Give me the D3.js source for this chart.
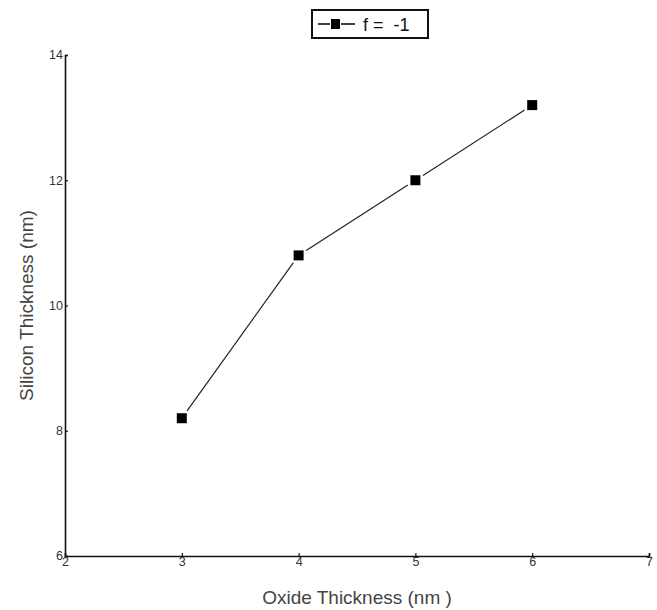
<!DOCTYPE html>
<html>
<head>
<meta charset="utf-8">
<script src="https://cdn.jsdelivr.net/npm/d3@7"></script>
<style>
  html, body { margin: 0; padding: 0; background: #fff; }
  svg { display: block; font-family: Arial, "Liberation Sans", sans-serif; }
</style>
</head>
<body>
<svg id="chart" width="657" height="610"></svg>
<script>
// Series: silicon thickness vs oxide thickness, f = -1
const oxideThickness = [3, 4, 5, 6];
const siliconThickness = [8.2, 10.8, 12.0, 13.2];
const seriesName = "f =  -1";

const xTicks = [2, 3, 4, 5, 6, 7];
const yTicks = [6, 8, 10, 12, 14];

const svg = d3.select("#chart");

const x = d3.scaleLinear().domain([2, 7]).range([65, 649]);
const y = d3.scaleLinear().domain([6, 14]).range([556, 55]);

const ink = "#111";

// Axes
const xAxis = d3.axisBottom(x).tickValues(xTicks).tickSize(-3).tickPadding(5).tickFormat(d3.format("d"));
const yAxis = d3.axisLeft(y).tickValues(yTicks).tickSize(-3).tickPadding(2).tickFormat(d3.format("d"));

const gx = svg.append("g").attr("transform", `translate(0,${y(6)})`).call(xAxis);
const gy = svg.append("g").attr("transform", `translate(${x(2)},0)`).call(yAxis);

[gx, gy].forEach(g => {
  g.select(".domain").attr("stroke", ink).attr("stroke-width", 1.6);
  g.selectAll(".tick line").attr("stroke", ink).attr("stroke-width", 1.2);
  g.selectAll(".tick text").attr("fill", "#333").attr("font-size", 12.5);
});
gx.selectAll(".tick text").attr("dy", "0.4em");
gy.selectAll(".tick text").attr("dy", "0.3em");

// Axis titles
svg.append("text")
  .attr("x", 357).attr("y", 604)
  .attr("text-anchor", "middle")
  .attr("font-size", 19)
  .attr("fill", "#444")
  .text("Oxide Thickness (nm )");

svg.append("text")
  .attr("transform", `translate(33,${(y(6) + y(14)) / 2}) rotate(-90)`)
  .attr("text-anchor", "middle")
  .attr("font-size", 19)
  .attr("fill", "#444")
  .text("Silicon Thickness (nm)");

// Data line: segments stop short of each marker
const pts = oxideThickness.map((d, i) => [x(d), y(siliconThickness[i])]);
const gap = 9;
const segs = [];
for (let i = 0; i < pts.length - 1; i++) {
  const [x0, y0] = pts[i], [x1, y1] = pts[i + 1];
  const len = Math.hypot(x1 - x0, y1 - y0);
  const ux = (x1 - x0) / len, uy = (y1 - y0) / len;
  segs.push([[x0 + ux * gap, y0 + uy * gap], [x1 - ux * gap, y1 - uy * gap]]);
}
svg.append("g").selectAll("path").data(segs).join("path")
  .attr("d", d => d3.line()(d))
  .attr("stroke", "#222")
  .attr("stroke-width", 1.2)
  .attr("fill", "none");

const ms = 10;
svg.append("g").selectAll("rect").data(pts).join("rect")
  .attr("x", d => d[0] - ms / 2)
  .attr("y", d => d[1] - ms / 2)
  .attr("width", ms).attr("height", ms)
  .attr("fill", "#000");

// Legend
const lg = svg.append("g");
lg.append("rect")
  .attr("x", 312).attr("y", 10).attr("width", 116).attr("height", 28)
  .attr("fill", "#fff").attr("stroke", ink).attr("stroke-width", 2);
lg.append("line").attr("x1", 318).attr("x2", 330).attr("y1", 24).attr("y2", 24).attr("stroke", ink).attr("stroke-width", 1.6);
lg.append("line").attr("x1", 341).attr("x2", 355).attr("y1", 24).attr("y2", 24).attr("stroke", ink).attr("stroke-width", 1.6);
lg.append("rect").attr("x", 331).attr("y", 19).attr("width", 9).attr("height", 10).attr("fill", "#000");
lg.append("text")
  .attr("x", 363).attr("y", 31)
  .attr("font-size", 18)
  .attr("fill", "#111")
  .style("white-space", "pre")
  .text(seriesName);
</script>
</body>
</html>
